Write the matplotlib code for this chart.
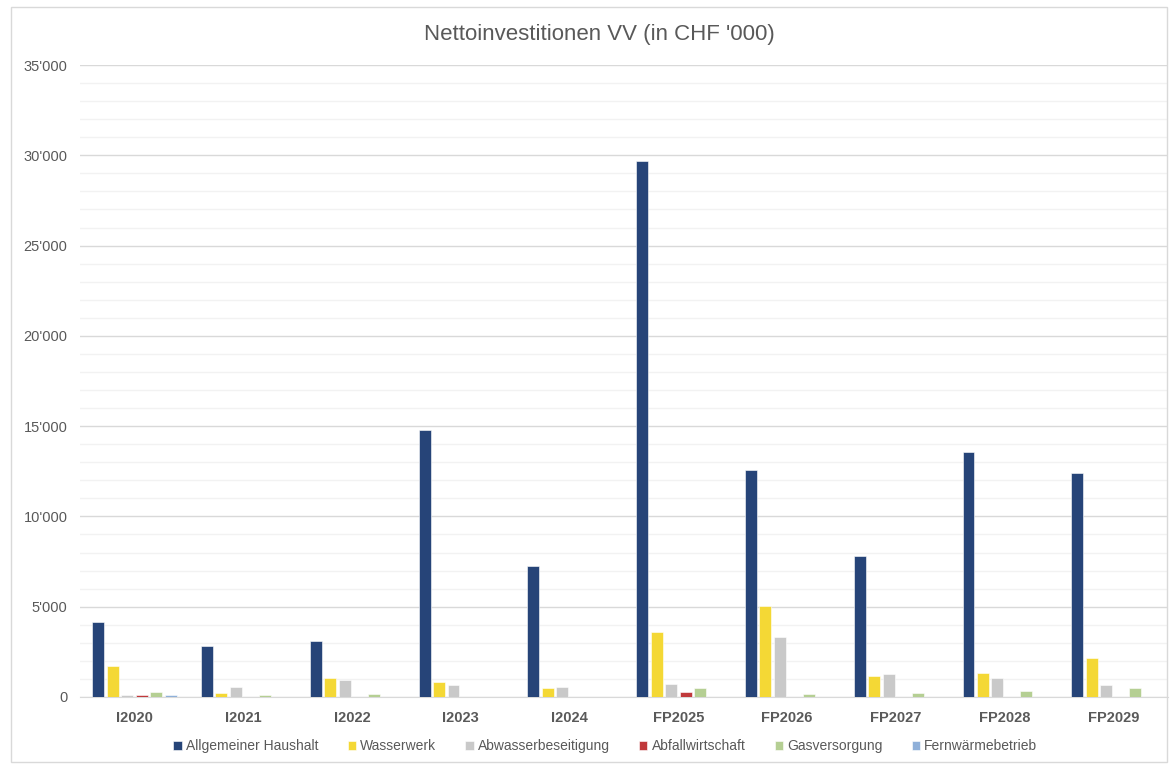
import numpy as np
import matplotlib.pyplot as plt
from matplotlib.ticker import FuncFormatter, MultipleLocator

plt.rcParams['font.family'] = ['Liberation Sans', 'DejaVu Sans']

categories = ["I2020", "I2021", "I2022", "I2023", "I2024",
              "FP2025", "FP2026", "FP2027", "FP2028", "FP2029"]
series_names = ["Allgemeiner Haushalt", "Wasserwerk", "Abwasserbeseitigung",
                "Abfallwirtschaft", "Gasversorgung", "Fernwärmebetrieb"]
allgemeiner = [4150, 2820, 3080, 14770, 7250, 29700, 12550, 7820, 13580, 12400]
wasserwerk = [1730, 200, 1070, 810, 480, 3580, 5020, 1180, 1350, 2160]
abwasser = [90, 550, 930, 680, 570, 720, 3320, 1270, 1030, 680]
abfall = [100, 0, 0, 0, 0, 260, 0, 0, 0, 0]
gas = [260, 90, 180, 0, 0, 480, 170, 240, 330, 480]
fernwaerme = [130, 0, 0, 0, 0, 0, 0, 0, 0, 0]
colors = ["#264478", "#F4D835", "#C9C9C9", "#C0393B", "#B5CF93", "#8FB0D9"]

values = [allgemeiner, wasserwerk, abwasser, abfall, gas, fernwaerme]

fig = plt.figure(figsize=(11.71, 7.64), dpi=100)
# light outer frame like the chart box
fig.patches.append(plt.Rectangle((0.009, 0.003), 0.988, 0.988, transform=fig.transFigure,
                                 fill=False, edgecolor="#D9D9D9", linewidth=1))
ax = fig.add_axes([0.0683, 0.0877, 0.929, 0.8272])

x = np.arange(len(categories))
step = 0.133
width = 0.11
for i, (name, vals) in enumerate(zip(series_names, values)):
    ax.bar(x + (i - 2.5) * step, vals, width, color=colors[i], label=name,
           edgecolor="white", linewidth=0.4, zorder=3)

ax.set_xlim(-0.5, len(categories) - 0.5)
ax.set_ylim(0, 35000)
ax.yaxis.set_major_locator(MultipleLocator(5000))
ax.yaxis.set_minor_locator(MultipleLocator(1000))
ax.yaxis.set_major_formatter(FuncFormatter(lambda v, p: f"{int(v):,}".replace(",", "'")))
ax.grid(axis="y", which="major", color="#D9D9D9", linewidth=1, zorder=0)
ax.grid(axis="y", which="minor", color="#F2F2F2", linewidth=1, zorder=0)
for s in ["top", "right", "left"]:
    ax.spines[s].set_visible(False)
ax.spines["bottom"].set_color("#D9D9D9")
ax.tick_params(axis="both", which="both", length=0)
ax.tick_params(axis="y", labelsize=10.5, labelcolor="#595959", pad=9)
ax.set_xticks(x)
ax.set_xticklabels(categories, fontsize=10.5, fontweight="bold", color="#595959")
ax.tick_params(axis="x", pad=10)

fig.suptitle("Nettoinvestitionen VV (in CHF '000)", x=0.512, y=0.968, fontsize=16, color="#595959")

ax.legend(loc="upper center", bbox_to_anchor=(0.483, -0.047), ncol=6, frameon=False,
          fontsize=10, labelcolor="#595959", handlelength=0.6, handleheight=0.6,
          handletextpad=0.3, columnspacing=2.1)

fig.savefig("out.png", dpi=100)
